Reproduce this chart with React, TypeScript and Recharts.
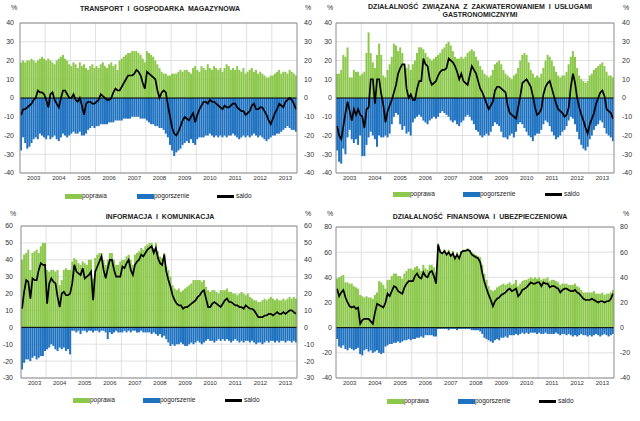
import React from 'react';
import {
  ComposedChart,
  Bar,
  Line,
  XAxis,
  YAxis,
  CartesianGrid,
  ReferenceLine,
} from 'recharts';

// lata i miesiące (styczeń 2003 – grudzień 2013)
const years = ['2003', '2004', '2005', '2006', '2007', '2008', '2009', '2010', '2011', '2012', '2013'];
const monthNums = ['01', '02', '03', '04', '05', '06', '07', '08', '09', '10', '11', '12'];
const months = years.flatMap((y) => monthNums.map((m) => `${y}-${m}`));
const yearTicks = years.map((y) => `${y}-07`);

// TRANSPORT I GOSPODARKA MAGAZYNOWA
const transportUp = [
  19, 20, 19, 20, 20, 21, 20, 19, 20, 21, 22, 21,
  20, 21, 20, 19, 18, 20, 21, 22, 23, 21, 20, 18,
  17, 19, 18, 16, 19, 17, 18, 16, 15, 17, 18, 16,
  17, 16, 18, 19, 17, 16, 18, 19, 17, 18, 15, 20,
  21, 22, 23, 24, 24, 25, 25, 25, 24, 23, 21, 19,
  25, 24, 23, 22, 20, 18, 16, 14, 13, 13, 12, 12,
  13, 13, 13, 14, 15, 14, 15, 15, 14, 13, 16, 17,
  15, 14, 17, 16, 15, 18, 16, 15, 17, 16, 15, 16,
  14, 16, 18, 17, 15, 16, 15, 17, 15, 14, 16, 13,
  14, 15, 16, 14, 15, 13, 14, 13, 12, 11, 11, 12,
  12, 13, 14, 15, 13, 14, 14, 13, 15, 14, 13, 12,
];
const transportDown = [
  -28, -21, -24, -27, -26, -24, -22, -21, -22, -19, -20, -21,
  -22, -20, -22, -21, -20, -22, -23, -21, -19, -20, -21, -20,
  -19, -18, -19, -19, -18, -20, -20, -19, -17, -16, -15, -16,
  -15, -15, -14, -14, -14, -14, -13, -13, -13, -12, -12, -12,
  -12, -11, -11, -11, -11, -10, -10, -10, -10, -11, -11, -11,
  -12, -13, -14, -14, -15, -15, -16, -16, -17, -19, -21, -25,
  -28, -31, -29, -28, -27, -25, -24, -23, -24, -22, -24, -25,
  -22, -21, -21, -21, -20, -20, -19, -20, -21, -20, -21, -20,
  -21, -20, -21, -20, -20, -19, -20, -21, -22, -21, -20, -21,
  -20, -21, -20, -19, -20, -21, -20, -21, -22, -23, -22, -21,
  -20, -20, -19, -19, -18, -17, -16, -15, -16, -17, -17, -18,
];
const transportSaldo = [
  -9, -6, -6, -5, -4, -3, -1, 0, 4, 3, 3, 2,
  -1, -5, 2, 3, -1, -3, -5, 0, 4, 4, 2, 0,
  0, 2, -1, -2, 0, -4, -9, -3, -2, -2, -3, -3,
  -2, -1, 2, 1, 0, -1, -1, 0, 3, 5, 4, 4,
  6, 8, 10, 12, 12, 12, 13, 15, 14, 12, 8, 5,
  14, 13, 12, 11, 10, 4, 0, 3, 4, 3, -4, -10,
  -16, -19, -20, -18, -15, -12, -10, -11, -12, -10, -8, -13,
  -9, -6, -4, -2, -2, -3, -1, -2, -2, -3, -4, -5,
  -6, -4, -5, -5, -4, -3, -3, -5, -6, -7, -7, -9,
  -8, -7, -4, -3, -6, -6, -5, -5, -7, -9, -12, -14,
  -11, -8, -6, -3, -4, -5, -2, -1, 0, -1, -3, -6,
];

// DZIAŁALNOŚĆ ZWIĄZANA Z ZAKWATEROWANIEM I USŁUGAMI GASTRONOMICZNYMI
const hotelsUp = [
  13, 13, 15, 23, 22, 27, 11, 11, 15, 14, 14, 12,
  13, 14, 24, 35, 24, 19, 16, 23, 29, 23, 12, 11,
  15, 18, 22, 29, 28, 25, 27, 24, 18, 16, 18, 15,
  18, 20, 24, 27, 27, 26, 24, 22, 21, 20, 21, 22,
  23, 24, 26, 27, 29, 30, 28, 25, 22, 21, 21, 22,
  21, 22, 24, 25, 26, 25, 22, 20, 17, 15, 13, 12,
  11, 12, 15, 18, 19, 20, 18, 15, 13, 12, 11, 10,
  12, 13, 16, 20, 23, 24, 23, 19, 15, 13, 11, 12,
  11, 13, 16, 20, 23, 22, 20, 17, 14, 12, 11, 12,
  12, 14, 18, 22, 25, 22, 16, 12, 10, 9, 8, 9,
  12, 13, 15, 16, 17, 18, 19, 17, 14, 12, 12, 11,
];
const hotelsDown = [
  -28, -34, -35, -27, -30, -21, -17, -22, -24, -22, -25, -20,
  -31, -31, -25, -21, -18, -20, -22, -26, -20, -21, -21, -20,
  -21, -19, -14, -10, -8, -9, -14, -17, -15, -19, -18, -20,
  -13, -11, -10, -9, -10, -12, -13, -14, -12, -11, -10, -11,
  -10, -8, -7, -8, -9, -10, -12, -13, -12, -14, -15, -13,
  -12, -10, -9, -10, -12, -14, -17, -18, -20, -21, -20, -19,
  -20, -18, -15, -13, -14, -15, -18, -21, -21, -22, -20, -19,
  -21, -18, -14, -13, -14, -16, -18, -20, -21, -23, -20, -19,
  -19, -17, -14, -12, -13, -15, -18, -20, -22, -21, -20, -18,
  -17, -15, -12, -10, -11, -14, -18, -22, -25, -27, -28, -26,
  -22, -20, -17, -15, -14, -12, -13, -16, -19, -20, -21, -23,
];
const hotelsSaldo = [
  -15, -20, -22, -15, -8, -2, -7, -12, -6, -9, -6, -9,
  -10, -16, -6, -5, 10, 10, -3, 10, 10, 2, -4, -13,
  -7, -4, -1, 3, 7, 13, 16, 18, 18, 5, 0, 2,
  -1, -1, 5, 9, 9, 21, 18, 17, 10, 7, 8, 9,
  12, 14, 15, 15, 16, 21, 20, 19, 17, 14, 10, 13,
  9, 8, 7, 12, 17, 15, 13, 9, 5, 3, 0, -3,
  -6, -4, -2, 4, 6, 6, 5, 4, 3, -4, -8, -9,
  -10, -11, -5, 1, 8, 9, 10, 8, 6, 1, -5, -9,
  -8, -6, 2, 6, 8, 9, 5, 1, -3, -6, -7, -8,
  -10, -9, -5, 6, 13, 8, 0, -5, -9, -12, -16, -19,
  -14, -11, -8, -3, 0, 3, 4, 1, -6, -7, -8, -11,
];

// INFORMACJA I KOMUNIKACJA
const infoUp = [
  40, 43, 44, 46, 34, 44, 45, 46, 44, 48, 50, 50,
  34, 33, 34, 34, 33, 34, 25, 28, 34, 35, 34, 34,
  39, 41, 40, 38, 37, 39, 38, 37, 40, 40, 29, 41,
  43, 44, 44, 40, 37, 40, 44, 44, 40, 37, 37, 39,
  40, 40, 42, 43, 40, 37, 43, 44, 45, 47, 46, 48,
  49, 50, 50, 47, 50, 45, 42, 41, 44, 36, 34, 30,
  25, 23, 22, 23, 21, 22, 23, 24, 25, 26, 28, 28,
  28, 28, 27, 28, 24, 22, 21, 22, 22, 21, 20, 22,
  22, 22, 23, 21, 21, 20, 20, 19, 20, 21, 20, 19,
  20, 18, 17, 16, 16, 15, 15, 16, 17, 16, 17, 18,
  17, 16, 17, 16, 16, 17, 16, 17, 18, 17, 18, 17,
];
const infoDown = [
  -25, -21, -19, -19, -20, -18, -17, -19, -18, -17, -17, -14,
  -13, -12, -10, -11, -13, -14, -12, -13, -12, -14, -13, -16,
  -2, -2, -3, -2, -4, -2, -2, -3, -2, -2, -3, -2,
  -2, -3, -2, -2, -3, -7, -3, -4, -3, -2, -3, -3,
  -3, -2, -3, -2, -3, -2, -2, -3, -3, -2, -3, -3,
  -3, -3, -4, -3, -4, -5, -4, -6, -5, -7, -9, -11,
  -10, -11, -10, -10, -9, -10, -11, -11, -10, -9, -10, -9,
  -8, -9, -10, -9, -8, -7, -8, -8, -9, -8, -7, -8,
  -7, -8, -7, -8, -9, -8, -7, -8, -9, -8, -9, -8,
  -8, -9, -8, -9, -10, -9, -9, -10, -9, -8, -9, -8,
  -8, -9, -8, -9, -8, -8, -9, -8, -8, -9, -8, -9,
];
const infoSaldo = [
  11, 21, 28, 27, 17, 29, 28, 28, 34, 38, 37, 37,
  14, 26, 29, 27, 26, 18, 12, 20, 21, 19, 19, 20,
  26, 37, 33, 32, 31, 35, 29, 30, 31, 33, 16, 33,
  36, 39, 42, 34, 29, 35, 40, 40, 34, 30, 30, 30,
  36, 35, 38, 40, 34, 31, 37, 39, 40, 43, 42, 44,
  46, 47, 48, 44, 47, 41, 38, 37, 43, 33, 28, 24,
  19, 16, 14, 13, 13, 11, 12, 12, 13, 14, 15, 16,
  18, 19, 21, 22, 17, 12, 12, 14, 15, 14, 13, 12,
  14, 16, 17, 15, 15, 14, 13, 13, 12, 12, 11, 13,
  12, 11, 11, 10, 8, 6, 6, 6, 7, 7, 8, 8,
  7, 8, 9, 8, 8, 9, 8, 9, 10, 10, 9, 8,
];

// DZIAŁALNOŚĆ FINANSOWA I UBEZPIECZENIOWA
const financeUp = [
  39, 40, 41, 42, 36, 36, 35, 35, 33, 32, 31, 26,
  25, 24, 25, 24, 24, 23, 26, 28, 37, 36, 34, 31,
  38, 38, 41, 43, 43, 41, 41, 39, 43, 45, 47, 47,
  46, 48, 49, 47, 45, 50, 47, 46, 50, 50, 48, 44,
  67, 62, 60, 62, 60, 62, 58, 61, 57, 60, 57, 61,
  62, 62, 63, 62, 60, 59, 58, 57, 56, 50, 43, 38,
  33, 30, 29, 30, 32, 33, 34, 35, 34, 35, 36, 34,
  35, 38, 33, 35, 37, 38, 38, 39, 40, 39, 40, 39,
  40, 38, 39, 39, 40, 37, 38, 38, 37, 36, 34, 35,
  35, 35, 34, 34, 34, 35, 33, 32, 30, 28, 28, 28,
  28, 28, 29, 27, 27, 27, 28, 26, 27, 27, 28, 30,
];
const financeDown = [
  -9, -15, -16, -14, -17, -18, -16, -17, -18, -17, -16, -21,
  -22, -18, -17, -19, -18, -20, -19, -18, -20, -21, -20, -15,
  -14, -13, -13, -12, -12, -11, -12, -11, -10, -10, -9, -10,
  -9, -9, -8, -8, -7, -8, -6, -6, -6, -6, -7, -7,
  -1, -1, -1, -1, -1, -2, -1, -1, -1, -2, -1, -1,
  -1, -1, -1, -1, -2, -2, -2, -2, -3, -5, -8, -9,
  -10, -11, -12, -10, -9, -10, -8, -8, -7, -8, -6, -6,
  -6, -5, -6, -5, -4, -5, -4, -5, -4, -4, -4, -5,
  -4, -5, -5, -4, -5, -5, -5, -5, -4, -5, -6, -5,
  -5, -6, -5, -6, -7, -6, -7, -6, -5, -6, -6, -7,
  -6, -7, -6, -5, -6, -7, -6, -5, -6, -7, -6, -5,
];
const financeSaldo = [
  31, 25, 28, 30, 24, 20, 17, 16, 17, 15, 16, 3,
  6, 7, 7, 7, 5, 3, 12, 19, 18, 17, 16, 20,
  27, 25, 29, 33, 32, 29, 28, 27, 32, 35, 37, 37,
  37, 41, 43, 40, 39, 44, 41, 40, 44, 45, 41, 35,
  66, 60, 59, 61, 58, 60, 57, 59, 55, 58, 55, 60,
  61, 61, 62, 61, 58, 57, 56, 55, 52, 43, 36, 31,
  26, 22, 17, 21, 23, 24, 26, 27, 28, 30, 31, 29,
  30, 31, 25, 27, 30, 31, 32, 34, 36, 35, 35, 36,
  36, 33, 36, 35, 35, 32, 33, 33, 32, 31, 28, 30,
  31, 31, 30, 29, 29, 30, 28, 27, 25, 23, 22, 22,
  22, 23, 22, 21, 20, 21, 21, 20, 21, 21, 23, 27,
];

const GREEN = '#8cc84b';
const BLUE = '#1f72c0';
const FONT = "'Liberation Sans Narrow', 'Arial Narrow', 'Liberation Sans', Arial, sans-serif";

type PanelProps = {
  left: number;
  top: number;
  title: string[];
  titleTop: number;
  chartHeight: number;
  marginTop: number;
  yLeftW: number;
  yRightW: number;
  gapL: number;
  gapR: number;
  domain: [number, number];
  ticks: number[];
  up: number[];
  down: number[];
  saldo: number[];
  pctL: number;
  pctR: number;
  pctTop: number;
  legendTop: number;
  legendX: number[];
};

const tickStyle = { fontSize: 7, fill: '#333', fontFamily: FONT };

const Panel: React.FC<PanelProps> = (p) => {
  const data = months.map((m, i) => ({ m, up: p.up[i], down: p.down[i], saldo: p.saldo[i] }));
  return (
    <div style={{ position: 'absolute', left: p.left, top: p.top, width: 320, height: 211 }}>
      <div
        style={{
          position: 'absolute',
          left: 0,
          width: 320,
          top: p.titleTop,
          textAlign: 'center',
          fontFamily: FONT,
          fontWeight: 'bold',
          fontSize: 7,
          lineHeight: '8px',
          color: '#222',
          wordSpacing: 2,
        }}
      >
        {p.title.map((t) => (
          <div key={t}>{t}</div>
        ))}
      </div>
      <span style={{ position: 'absolute', left: p.pctL, top: p.pctTop, fontSize: 7, fontFamily: FONT, color: '#333' }}>%</span>
      <span style={{ position: 'absolute', left: p.pctR, top: p.pctTop, fontSize: 7, fontFamily: FONT, color: '#333' }}>%</span>
      <div style={{ position: 'absolute', left: 0, top: 0 }}>
        <ComposedChart
          width={320}
          height={p.chartHeight}
          data={data}
          stackOffset="sign"
          barCategoryGap={0}
          margin={{ top: p.marginTop, right: 0, bottom: 0, left: 0 }}
        >
          <CartesianGrid
            yAxisId="l"
            stroke="#d9d9d9"
            strokeWidth={0.8}
            verticalCoordinatesGenerator={({ offset }: any) =>
              years.slice(1).map((_, i) => offset.left + (((i + 1) * 12) / months.length) * offset.width)
            }
          />
          <XAxis
            dataKey="m"
            ticks={yearTicks}
            interval={0}
            tickFormatter={(v: string) => v.slice(0, 4)}
            tickLine={false}
            tickSize={2}
            tickMargin={1}
            height={17}
            axisLine={{ stroke: '#8c8c8c' }}
            tick={{ ...tickStyle, fontSize: 6 }}
          />
          <YAxis
            yAxisId="l"
            domain={p.domain}
            ticks={p.ticks}
            interval={0}
            width={p.yLeftW}
            tickLine={false}
            tickSize={p.gapL}
            tickMargin={0}
            axisLine={{ stroke: '#8c8c8c' }}
            tick={tickStyle}
          />
          <YAxis
            yAxisId="r"
            orientation="right"
            domain={p.domain}
            ticks={p.ticks}
            interval={0}
            width={p.yRightW}
            tickLine={false}
            tickSize={p.gapR}
            tickMargin={0}
            axisLine={{ stroke: '#8c8c8c' }}
            tick={tickStyle}
          />
          <ReferenceLine yAxisId="l" y={p.domain[1]} stroke="#8c8c8c" />
          <Bar yAxisId="l" dataKey="up" stackId="s" fill={GREEN} isAnimationActive={false} />
          <Bar yAxisId="l" dataKey="down" stackId="s" fill={BLUE} isAnimationActive={false} />
          <ReferenceLine yAxisId="l" y={0} stroke="#000" strokeWidth={1} />
          <Line
            yAxisId="r"
            dataKey="saldo"
            stroke="none"
            dot={false}
            activeDot={false}
            isAnimationActive={false}
          />
          <Line
            yAxisId="l"
            type="linear"
            dataKey="saldo"
            stroke="#000"
            strokeWidth={1.7}
            dot={false}
            activeDot={false}
            isAnimationActive={false}
          />
        </ComposedChart>
      </div>
      {/* legenda */}
      <div style={{ position: 'absolute', left: p.legendX[0], top: p.legendTop, width: 17, height: 5, background: GREEN }} />
      <span style={{ position: 'absolute', left: p.legendX[0] + 17, top: p.legendTop - 2, fontSize: 6.5, fontFamily: FONT, color: '#222' }}>
        poprawa
      </span>
      <div style={{ position: 'absolute', left: p.legendX[1], top: p.legendTop, width: 17, height: 5, background: BLUE }} />
      <span style={{ position: 'absolute', left: p.legendX[1] + 17, top: p.legendTop - 2, fontSize: 6.5, fontFamily: FONT, color: '#222' }}>
        pogorszenie
      </span>
      <div style={{ position: 'absolute', left: p.legendX[2], top: p.legendTop + 1, width: 17, height: 2.5, background: '#000' }} />
      <span style={{ position: 'absolute', left: p.legendX[2] + 19, top: p.legendTop - 2, fontSize: 6.5, fontFamily: FONT, color: '#222' }}>
        saldo
      </span>
    </div>
  );
};

const ticks40 = [-40, -30, -20, -10, 0, 10, 20, 30, 40];
const ticks60 = [-30, -20, -10, 0, 10, 20, 30, 40, 50, 60];
const ticks80 = [-40, -20, 0, 20, 40, 60, 80];

export default function App() {
  return (
    <div style={{ position: 'absolute', left: 0, top: 0, width: 640, height: 421, background: '#fff', overflow: 'hidden' }}>
      <Panel
        left={0}
        top={0}
        title={['TRANSPORT I GOSPODARKA MAGAZYNOWA']}
        titleTop={5}
        chartHeight={190}
        marginTop={23}
        yLeftW={20}
        yRightW={23}
        gapL={6}
        gapR={7}
        domain={[-40, 40]}
        ticks={ticks40}
        up={transportUp}
        down={transportDown}
        saldo={transportSaldo}
        pctL={11}
        pctR={305}
        pctTop={4}
        legendTop={194}
        legendX={[65, 137, 217]}
      />
      <Panel
        left={320}
        top={0}
        title={['DZIAŁALNOŚĆ ZWIĄZANA Z ZAKWATEROWANIEM I USŁUGAMI', 'GASTRONOMICZNYMI']}
        titleTop={3}
        chartHeight={190}
        marginTop={23}
        yLeftW={16}
        yRightW={26}
        gapL={4}
        gapR={8}
        domain={[-40, 40]}
        ticks={ticks40}
        up={hotelsUp}
        down={hotelsDown}
        saldo={hotelsSaldo}
        pctL={7}
        pctR={303}
        pctTop={4}
        legendTop={192}
        legendX={[73, 143, 225]}
      />
      <Panel
        left={0}
        top={210}
        title={['INFORMACJA I KOMUNIKACJA']}
        titleTop={3}
        chartHeight={185}
        marginTop={16}
        yLeftW={21}
        yRightW={23}
        gapL={8}
        gapR={7}
        domain={[-30, 60]}
        ticks={ticks60}
        up={infoUp}
        down={infoDown}
        saldo={infoSaldo}
        pctL={10}
        pctR={305}
        pctTop={0}
        legendTop={188}
        legendX={[73, 143, 225]}
      />
      <Panel
        left={320}
        top={210}
        title={['DZIAŁALNOŚĆ FINANSOWA I UBEZPIECZENIOWA']}
        titleTop={3}
        chartHeight={185}
        marginTop={17}
        yLeftW={16}
        yRightW={26}
        gapL={4}
        gapR={6}
        domain={[-40, 80]}
        ticks={ticks80}
        up={financeUp}
        down={financeDown}
        saldo={financeSaldo}
        pctL={7}
        pctR={303}
        pctTop={0}
        legendTop={189}
        legendX={[67, 138, 219]}
      />
    </div>
  );
}
